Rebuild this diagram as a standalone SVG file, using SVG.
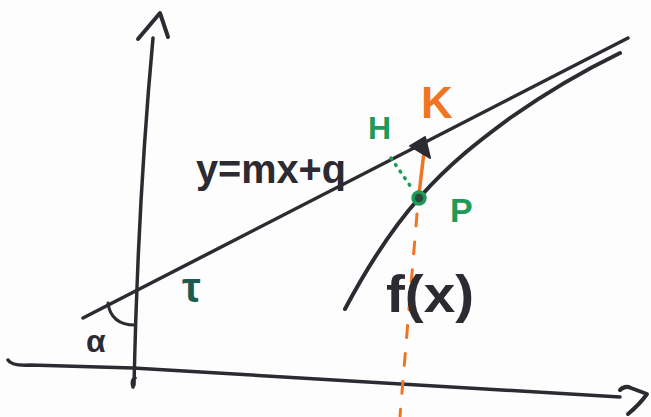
<svg xmlns="http://www.w3.org/2000/svg" width="651" height="417" viewBox="0 0 651 417">
  <style>
    .ink { fill: none; stroke: #2b2b31; stroke-linecap: round; stroke-linejoin: round; }
    .orange { fill: none; stroke: #f07422; stroke-linecap: round; }
    .lbl { font-family: "Liberation Sans", Arial, sans-serif; font-weight: bold; }
  </style>
  <rect width="651" height="417" fill="#fdfdfd"/>

  <g id="axes">
    <path class="ink" stroke-width="3.5" d="M133,387 Q131,380 135,378 M134,385 Q138,200 153,38"/>
    <path class="ink" stroke-width="4" d="M138,39 L160,13 L168,37"/>
    <path class="ink" stroke-width="3.5" d="M8,360 Q11,366 30,365 L133,368 L620,397"/>
    <path class="ink" stroke-width="4" d="M620,390 Q625,385 631,388 L647,394 Q640,404 628,414"/>
  </g>

  <g id="tangent-line">
    <path class="ink" stroke-width="3.5" d="M83,318 L628,38"/>
  </g>

  <g id="curve-f">
    <path class="ink" stroke-width="4" d="M345,309 C370,262 395,225 420,197 C450,163 480,140 510,118 C550,90 585,70 620,53"/>
  </g>

  <g id="connectors">
    <path class="orange" stroke-width="3.5" d="M424,152 L419,194"/>
    <path class="orange" stroke-width="3" stroke-dasharray="12 16" d="M417,214 L400,416"/>
    <path fill="none" stroke="#1e9b58" stroke-width="3.5" stroke-linecap="round" stroke-dasharray="1 7" d="M391,158 L411,187"/>
    <path d="M410,146 L425,137 L430,158 Z" fill="#2b2b31" stroke="#2b2b31" stroke-width="2" stroke-linejoin="round"/>
    <path class="ink" stroke-width="3" d="M108,303 Q111,325 135,325"/>
  </g>

  <g id="point-P">
    <circle cx="419" cy="198" r="6" fill="#2a4a3a" stroke="#1e9b58" stroke-width="3.5"/>
  </g>

  <g id="labels">
    <text class="lbl" x="421" y="118" font-size="44" fill="#f07422">K</text>
    <text class="lbl" x="368" y="139" font-size="32" fill="#1e9b58">H</text>
    <text class="lbl" x="450" y="222" font-size="34" fill="#1e9b58">P</text>
    <text class="lbl" x="196" y="183" font-size="40" fill="#2b2b31" textLength="150" lengthAdjust="spacingAndGlyphs">y=mx+q</text>
    <text class="lbl" x="182" y="302" font-size="42" fill="#1d5c4c">τ</text>
    <text class="lbl" x="86" y="352" font-size="32" fill="#2b2b31">α</text>
    <text class="lbl" x="386" y="312" font-size="52" fill="#2b2b31" textLength="88" lengthAdjust="spacingAndGlyphs">f(x)</text>
  </g>
</svg>
